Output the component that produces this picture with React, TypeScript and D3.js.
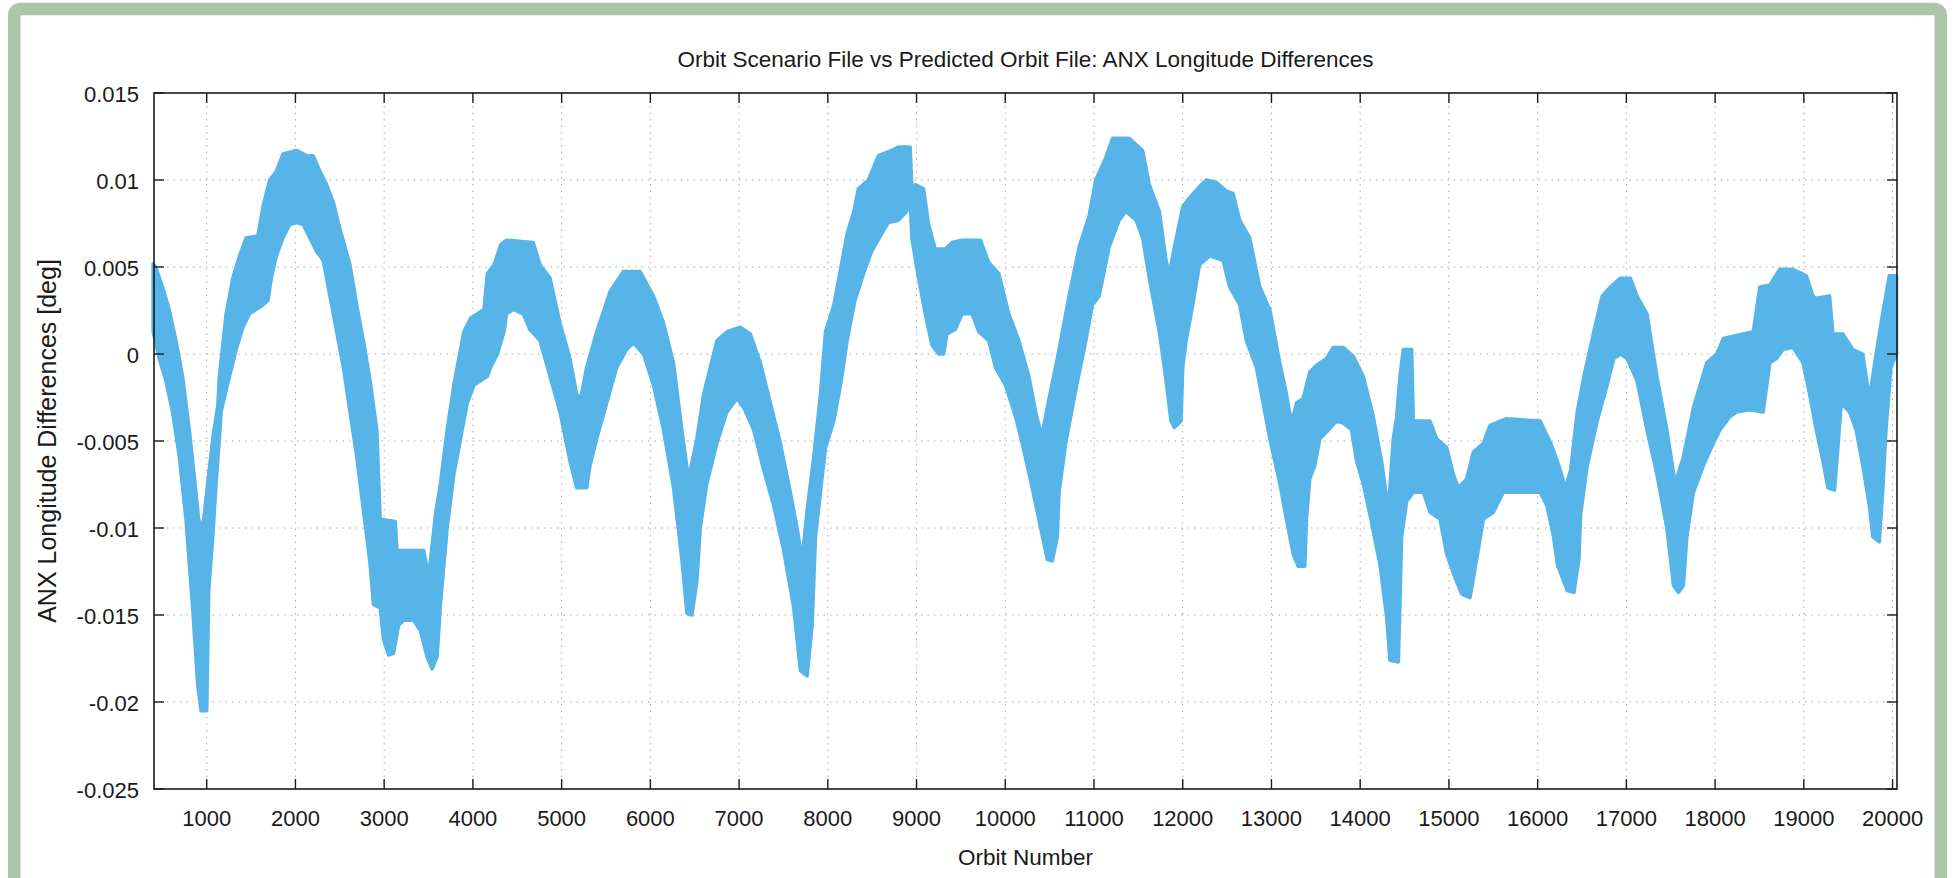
import React from 'react';
import * as d3 from 'd3';

// ---- data (orbit number, ANX longitude difference in millidegrees) ----
const upperOrbit = [396,426,502,577,653,728,804,879,909,955,1011,1068,1125,1143,1219,1294,1370,1445,1577,1634,1710,1785,1860,2011,2125,2200,2276,2351,2427,2502,2615,2691,2766,2842,2917,2955,3125,3144,3446,3502,3578,3634,3710,3785,3898,3974,4125,4163,4238,4314,4379,4680,4756,4869,4981,5094,5169,5215,5282,5395,5546,5696,5885,6035,6148,6261,6355,6430,6524,6600,6750,6863,7014,7127,7240,7353,7465,7578,7654,7710,7767,7842,7917,7974,8068,8143,8218,8294,8344,8457,8570,8721,8796,8928,8947,8985,9079,9136,9211,9324,9400,9513,9720,9814,9927,10040,10153,10266,10342,10410,10493,10606,10719,10832,10945,11020,11133,11209,11397,11548,11623,11736,11812,11849,11906,12000,12075,12189,12266,12379,12492,12567,12642,12755,12868,12981,13094,13169,13226,13282,13357,13432,13508,13620,13696,13809,13922,14034,14147,14241,14317,14373,14411,14448,14486,14580,14599,14787,14862,14975,15050,15107,15200,15275,15388,15463,15651,16028,16147,16222,16315,16372,16446,16521,16633,16727,16820,16933,17045,17120,17232,17344,17456,17550,17643,17756,17906,18018,18093,18317,18430,18504,18617,18729,18878,19028,19103,19140,19290,19328,19440,19552,19664,19739,19814,19888,19963,20045];
const upperMdeg = [5.18,5.0,3.85,2.56,0.77,-1.28,-4.36,-7.95,-9.49,-10.0,-7.44,-4.87,-2.95,-1.28,2.31,4.36,5.64,6.67,6.79,8.46,10.0,10.5,11.5,11.7,11.4,11.4,10.5,9.74,8.72,7.18,5.13,2.82,0.77,-1.54,-4.36,-9.49,-9.62,-11.3,-11.3,-12.8,-9.23,-7.44,-4.36,-1.79,1.28,2.05,2.56,4.62,5.13,6.28,6.54,6.41,5.13,4.36,1.79,-0.26,-2.31,-2.56,-0.77,1.28,3.59,4.74,4.74,3.33,1.79,-0.51,-4.36,-7.18,-4.87,-2.31,0.77,1.28,1.54,1.15,-0.51,-2.82,-5.13,-7.95,-10.0,-11.8,-8.97,-5.9,-2.31,1.28,2.82,4.87,6.92,8.2,9.49,10.0,11.4,11.7,11.9,11.9,9.49,9.74,9.49,7.44,6.03,6.03,6.41,6.54,6.54,5.26,4.62,2.31,0.77,-1.28,-3.33,-4.74,-2.56,0.26,3.33,6.15,7.95,10.0,11.3,12.4,12.4,11.7,9.74,8.2,5.38,4.62,6.15,8.46,8.97,9.62,10.0,9.87,9.36,9.23,7.69,6.67,3.85,2.56,-0.51,-2.31,-3.97,-2.82,-2.56,-1.03,-0.64,-0.26,0.38,0.38,-0.13,-1.28,-3.59,-6.15,-8.97,-4.87,-3.59,-1.28,0.26,0.26,-3.85,-3.85,-4.87,-5.38,-6.92,-7.69,-7.18,-5.64,-5.13,-4.10,-3.72,-3.85,-5.13,-6.15,-7.69,-6.67,-3.33,-1.28,1.28,3.33,3.85,4.36,4.36,3.33,2.31,-1.28,-4.36,-7.44,-5.9,-3.08,-0.51,0,0.9,1.15,1.28,3.85,3.97,4.87,4.87,4.49,3.33,3.20,3.33,1.15,1.15,0.26,0,-2.56,0,2.31,4.49,4.49];

const lowerOrbit = [396,464,540,615,691,766,842,898,936,1000,1023,1068,1106,1143,1162,1257,1332,1408,1483,1634,1691,1728,1785,1860,1936,2011,2087,2162,2238,2313,2389,2464,2540,2615,2691,2766,2842,2879,2955,2993,3049,3106,3162,3219,3332,3408,3483,3540,3597,3634,3710,3785,3861,3936,4012,4163,4200,4276,4351,4379,4454,4567,4642,4756,4869,4981,5094,5169,5282,5320,5395,5508,5621,5734,5809,5922,6035,6148,6261,6355,6412,6468,6524,6562,6637,6750,6863,6976,7051,7164,7277,7390,7503,7616,7691,7767,7823,7861,7917,7974,8068,8143,8218,8306,8419,8495,8608,8683,8796,8891,8928,8947,9023,9098,9174,9249,9305,9343,9437,9513,9626,9701,9814,9889,10002,10116,10191,10304,10398,10474,10530,10587,10606,10681,10795,10908,10983,11058,11171,11284,11360,11473,11548,11623,11736,11812,11868,11906,11981,12000,12038,12113,12189,12304,12454,12529,12642,12717,12830,12905,12981,13094,13169,13245,13301,13376,13395,13432,13489,13545,13620,13733,13809,13903,13959,14034,14110,14223,14298,14336,14430,14448,14467,14524,14599,14712,14787,14900,14975,15050,15144,15238,15313,15388,15501,15614,16028,16104,16179,16222,16334,16409,16465,16484,16559,16671,16783,16858,16933,17008,17120,17232,17344,17456,17531,17587,17643,17681,17756,17868,17980,18055,18168,18242,18392,18542,18617,18692,18766,18878,18991,19065,19140,19215,19271,19346,19384,19421,19515,19589,19664,19739,19777,19851,19888,19926,19982,20045];
const lowerMdeg = [1.28,-0.26,-1.54,-3.33,-5.9,-9.49,-14.6,-19.0,-20.5,-20.5,-13.6,-10.5,-7.44,-4.87,-3.33,-1.28,0.26,1.54,2.31,2.82,3.08,4.36,5.64,6.67,7.44,7.56,7.44,6.67,5.9,5.38,3.33,1.28,-0.77,-3.33,-5.9,-8.97,-12.1,-14.4,-14.6,-16.4,-17.3,-17.2,-15.6,-15.3,-15.3,-15.9,-17.4,-18.1,-17.4,-14.4,-10.0,-6.92,-4.87,-2.82,-1.79,-1.28,-0.77,0,1.28,2.31,2.56,2.31,1.41,0.77,-1.28,-3.33,-6.15,-7.69,-7.69,-6.41,-4.87,-2.82,-0.77,0.26,0.64,0,-1.79,-4.36,-7.69,-11.8,-14.9,-15.0,-13.1,-10.0,-7.44,-5.13,-3.33,-2.56,-3.08,-4.36,-6.67,-8.72,-11.3,-14.6,-18.2,-18.5,-15.6,-10.5,-7.95,-5.38,-3.85,-1.79,0.77,3.08,4.87,5.9,6.92,7.56,7.69,8.2,8.97,6.67,4.36,2.31,0.51,0,0,1.15,1.41,2.31,2.31,1.28,0.77,-0.77,-1.79,-3.59,-5.13,-7.69,-10.0,-11.8,-11.9,-10.5,-7.95,-5.13,-2.05,0.77,2.82,3.33,6.15,7.69,8.2,7.69,6.67,4.36,1.28,-1.54,-3.85,-4.23,-3.85,-0.77,0.77,2.82,5.13,5.64,5.38,3.85,2.82,0.77,-0.77,-2.82,-4.87,-7.44,-9.49,-11.5,-12.2,-12.2,-9.49,-7.18,-6.41,-4.87,-4.49,-3.85,-3.97,-4.36,-6.15,-7.44,-9.23,-12.1,-15.1,-17.6,-17.7,-14.4,-10.5,-8.46,-7.95,-7.95,-9.10,-9.49,-11.5,-12.6,-13.8,-14.0,-11.8,-9.49,-9.10,-7.95,-7.95,-8.72,-10.5,-12.1,-13.6,-13.7,-11.8,-9.23,-6.41,-3.85,-1.79,-0.26,0,-0.26,-1.54,-4.36,-6.92,-10.0,-13.3,-13.7,-13.3,-10.5,-7.95,-6.41,-5.13,-4.36,-3.59,-3.33,-3.21,-3.33,-0.51,-0.26,0.26,0.38,-0.51,-2.31,-4.36,-6.15,-7.69,-7.82,-5.38,-2.82,-3.33,-4.36,-6.41,-8.72,-10.5,-10.8,-7.95,-4.36,-0.77,0];

const xTicks = [1000,2000,3000,4000,5000,6000,7000,8000,9000,10000,11000,12000,13000,14000,15000,16000,17000,18000,19000,20000];
const yTicks = [-0.025,-0.02,-0.015,-0.01,-0.005,0,0.005,0.01,0.015];
const yTickLabels = ['-0.025','-0.02','-0.015','-0.01','-0.005','0','0.005','0.01','0.015'];
const xDomain = [406, 20050];
const yDomain = [-0.025, 0.015];

const titleText = 'Orbit Scenario File vs Predicted Orbit File: ANX Longitude Differences';
const xLabelText = 'Orbit Number';
const yLabelText = 'ANX Longitude Differences [deg]';

const W = 1959, H = 878;
const L = 154, R = 1897, T = 93, B = 789;
const FONT = "'Liberation Sans', Arial, Helvetica, sans-serif";

export default function App() {
  const x = d3.scaleLinear().domain(xDomain).range([L, R]);
  const y = d3.scaleLinear().domain(yDomain).range([B, T]);

  const upper = upperOrbit.map((o, i) => [o, upperMdeg[i] / 1000] as [number, number]);
  const lower = lowerOrbit.map((o, i) => [o, lowerMdeg[i] / 1000] as [number, number]);
  const poly = upper.concat(lower.slice().reverse());
  const line = d3.line<[number, number]>().x(d => x(d[0])).y(d => y(d[1]));
  const bandPath = (line(poly) || '') + 'Z';

  const blue = '#56b4e9';
  const ink = '#1a1a1a';

  return (
    <svg width={W} height={H} style={{ position: 'absolute', left: 0, top: 0, display: 'block', background: '#fff' }}>
      <rect x={14.25} y={9} width={1926.5} height={880} rx={6} fill="#fff" stroke="#adc5a8" strokeWidth={12.5} />
      <defs>
        <clipPath id="plotClip">
          <rect x={L} y={T} width={R - L} height={B - T} />
        </clipPath>
      </defs>
      {/* grid */}
      <g stroke="#a8a8a8" strokeWidth={1} strokeDasharray="1.5,5">
        {xTicks.map(t => (
          <line key={'gx' + t} x1={x(t)} x2={x(t)} y1={T} y2={B} />
        ))}
        {yTicks.filter(t => t > yDomain[0] && t < yDomain[1]).map(t => (
          <line key={'gy' + t} x1={L} x2={R} y1={y(t)} y2={y(t)} />
        ))}
      </g>
      {/* data band */}
      <path d={bandPath} fill={blue} stroke={blue} strokeWidth={3.5} strokeLinejoin="round" />
      {/* axes box */}
      <rect x={L} y={T} width={R - L} height={B - T} fill="none" stroke={ink} strokeWidth={1.6} />
      <g stroke={ink} strokeWidth={1.4}>
        {xTicks.map(t => (
          <g key={'tx' + t}>
            <line x1={x(t)} x2={x(t)} y1={B} y2={B - 10} />
            <line x1={x(t)} x2={x(t)} y1={T} y2={T + 10} />
          </g>
        ))}
        {yTicks.map(t => (
          <g key={'ty' + t}>
            <line x1={L} x2={L + 10} y1={y(t)} y2={y(t)} />
            <line x1={R} x2={R - 10} y1={y(t)} y2={y(t)} />
          </g>
        ))}
      </g>
      <g fill={ink} fontFamily={FONT} fontSize={22}>
        {xTicks.map(t => (
          <text key={'lx' + t} x={x(t)} y={826} textAnchor="middle">{String(t)}</text>
        ))}
        {yTicks.map((t, i) => (
          <text key={'ly' + t} x={139} y={y(t) + 9} textAnchor="end">{yTickLabels[i]}</text>
        ))}
      </g>
      <text x={(L + R) / 2} y={67} textAnchor="middle" fontFamily={FONT} fontSize={22.5} fill={ink}>{titleText}</text>
      <text x={(L + R) / 2} y={865} textAnchor="middle" fontFamily={FONT} fontSize={22.5} fill={ink}>{xLabelText}</text>
      <text transform={`translate(56,${(T + B) / 2}) rotate(-90)`} textAnchor="middle" fontFamily={FONT} fontSize={25} fill={ink}>{yLabelText}</text>
    </svg>
  );
}
